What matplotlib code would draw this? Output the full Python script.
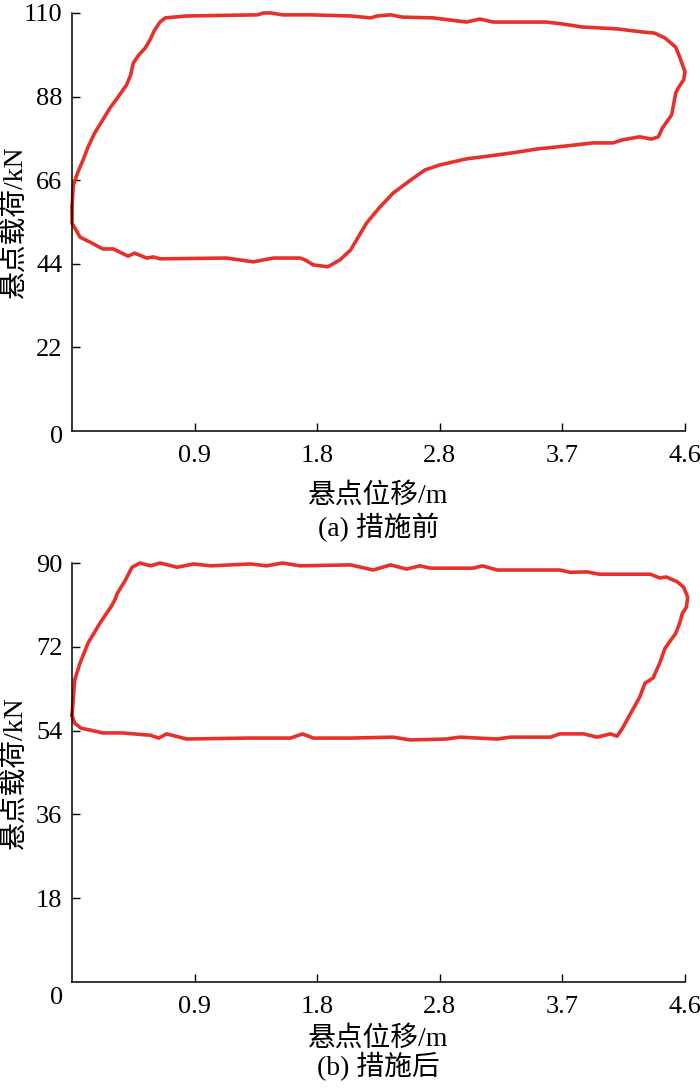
import matplotlib.pyplot as plt

plt.rcParams['font.family'] = ['Liberation Serif', 'Noto Sans CJK SC']

# card (a) before measures: displacement (m), load (kN), closed loop
x_before = [0.00, 0.01, 0.045, 0.083, 0.12, 0.17, 0.23, 0.285, 0.34, 0.41, 0.44, 0.46,
            0.50, 0.55, 0.585, 0.62, 0.66, 0.70, 0.86, 1.39, 1.44, 1.49, 1.58, 1.79,
            2.09, 2.24, 2.29, 2.39, 2.48, 2.71, 2.96, 3.06, 3.16, 3.56, 3.68, 3.83,
            4.09, 4.28, 4.37, 4.45, 4.53, 4.56, 4.60, 4.59, 4.55, 4.53, 4.50, 4.43,
            4.40, 4.35, 4.26, 4.13, 4.06, 3.91, 3.71, 3.49, 3.31, 3.14, 2.96, 2.76,
            2.65, 2.54, 2.41, 2.31, 2.21, 2.09, 2.01, 1.92, 1.81, 1.75, 1.71, 1.51,
            1.36, 1.16, 0.66, 0.61, 0.56, 0.47, 0.42, 0.31, 0.23, 0.135, 0.06, 0.00, 0.00]
y_before = [59.0, 64.7, 68.2, 71.3, 74.7, 78.4, 81.8, 85.0, 87.6, 91.1, 93.7, 96.8,
            98.9, 100.8, 102.9, 105.5, 107.6, 108.7, 109.2, 109.5, 110.0, 110.0, 109.5, 109.5,
            109.2, 108.7, 109.2, 109.5, 108.9, 108.7, 107.6, 108.4, 107.6, 107.6, 107.1, 106.3,
            105.8, 105.0, 104.7, 103.4, 101.0, 98.4, 94.5, 92.4, 90.3, 88.9, 83.2, 79.7,
            77.4, 76.8, 77.4, 76.6, 75.8, 75.8, 75.0, 74.2, 73.2, 72.4, 71.6, 70.0,
            68.7, 66.0, 62.6, 58.9, 54.7, 47.6, 45.0, 43.2, 43.7, 45.0, 45.5, 45.5,
            44.5, 45.5, 45.3, 45.8, 45.5, 46.8, 46.0, 47.9, 47.9, 49.7, 51.0, 54.7, 59.0]

# card (b) after measures
x_after = [0.00, 0.02, 0.06, 0.12, 0.21, 0.29, 0.32, 0.34, 0.40, 0.45, 0.51, 0.59,
           0.66, 0.79, 0.91, 1.04, 1.34, 1.46, 1.58, 1.71, 2.09, 2.26, 2.39, 2.51,
           2.61, 2.69, 3.01, 3.08, 3.19, 3.66, 3.74, 3.86, 3.96, 4.34, 4.41, 4.46,
           4.54, 4.59, 4.62, 4.61, 4.58, 4.56, 4.53, 4.45, 4.41, 4.36, 4.30, 4.26,
           4.13, 4.09, 4.04, 3.94, 3.84, 3.66, 3.59, 3.29, 3.19, 2.91, 2.81, 2.54,
           2.41, 2.09, 1.81, 1.73, 1.64, 1.31, 0.86, 0.71, 0.65, 0.59, 0.38, 0.23,
           0.14, 0.07, 0.02, 0.00]
y_after = [57.3, 64.9, 68.5, 72.8, 77.1, 80.5, 82.0, 83.5, 86.3, 89.1, 90.0, 89.4,
           90.0, 89.1, 89.8, 89.4, 89.8, 89.4, 90.0, 89.4, 89.6, 88.5, 89.6, 88.7,
           89.4, 88.9, 88.9, 89.4, 88.5, 88.5, 88.0, 88.1, 87.6, 87.6, 86.8, 87.0,
           86.0, 84.8, 82.7, 80.5, 79.2, 77.1, 74.9, 71.7, 68.5, 65.3, 64.2, 61.2,
           54.5, 52.8, 53.3, 52.6, 53.3, 53.3, 52.6, 52.6, 52.2, 52.6, 52.2, 52.0,
           52.6, 52.4, 52.4, 53.3, 52.4, 52.4, 52.2, 53.3, 52.4, 53.0, 53.5, 53.5,
           54.1, 54.5, 55.6, 57.3]

x_ticks = [0.92, 1.84, 2.76, 3.68, 4.6]
x_ticklabels = ['0.9', '1.8', '2.8', '3.7', '4.6']
y_ticks_before = [22, 44, 66, 88, 110]
y_ticks_after = [18, 36, 54, 72, 90]

RED = '#E8302A'

fig = plt.figure(figsize=(7, 10.88), dpi=100)
ax1 = fig.add_axes([0.1029, 0.6039, 0.8757, 0.3842])
ax2 = fig.add_axes([0.1029, 0.0974, 0.8757, 0.3851])

panels = [
    (ax1, x_before, y_before, y_ticks_before, '(a) 措施前', 0.5441, 0.5156, -6),
    (ax2, x_after, y_after, y_ticks_after, '(b) 措施后', 0.0450, 0.0193, -16),
]

for ax, xs, ys, yt, caption, xl_y, cap_y, zero_off in panels:
    ax.plot(xs, ys, color=RED, lw=2.6, solid_joinstyle='round', clip_on=False)
    ax.set_xlim(0, 4.6)
    ax.set_ylim(0, yt[-1])
    for s in ['top', 'right']:
        ax.spines[s].set_visible(False)
    for s in ['left', 'bottom']:
        ax.spines[s].set_linewidth(1.1)
    ax.set_xticks(x_ticks)
    ax.set_xticklabels(x_ticklabels)
    ax.set_yticks(yt)
    ax.set_yticklabels([str(v) for v in yt])
    ax.tick_params(axis='x', direction='in', length=6, width=1.0, pad=10, labelsize=19)
    ax.tick_params(axis='y', direction='in', length=6, width=1.0, pad=7, labelsize=19)
    ax.annotate('0', xy=(0, 0), xytext=(-15, zero_off), textcoords='offset pixels',
                ha='center', va='center', fontsize=19, annotation_clip=False)
    pos = ax.get_position()
    fig.text(0.022, (pos.y0 + pos.y1) / 2, '悬点载荷/kN', rotation=90,
             ha='center', va='center', fontsize=20)
    fig.text(0.541, xl_y, '悬点位移/m', ha='center', va='center', fontsize=20)
    fig.text(0.541, cap_y, caption, ha='center', va='center', fontsize=20)

fig.savefig('out.png', dpi=100)
